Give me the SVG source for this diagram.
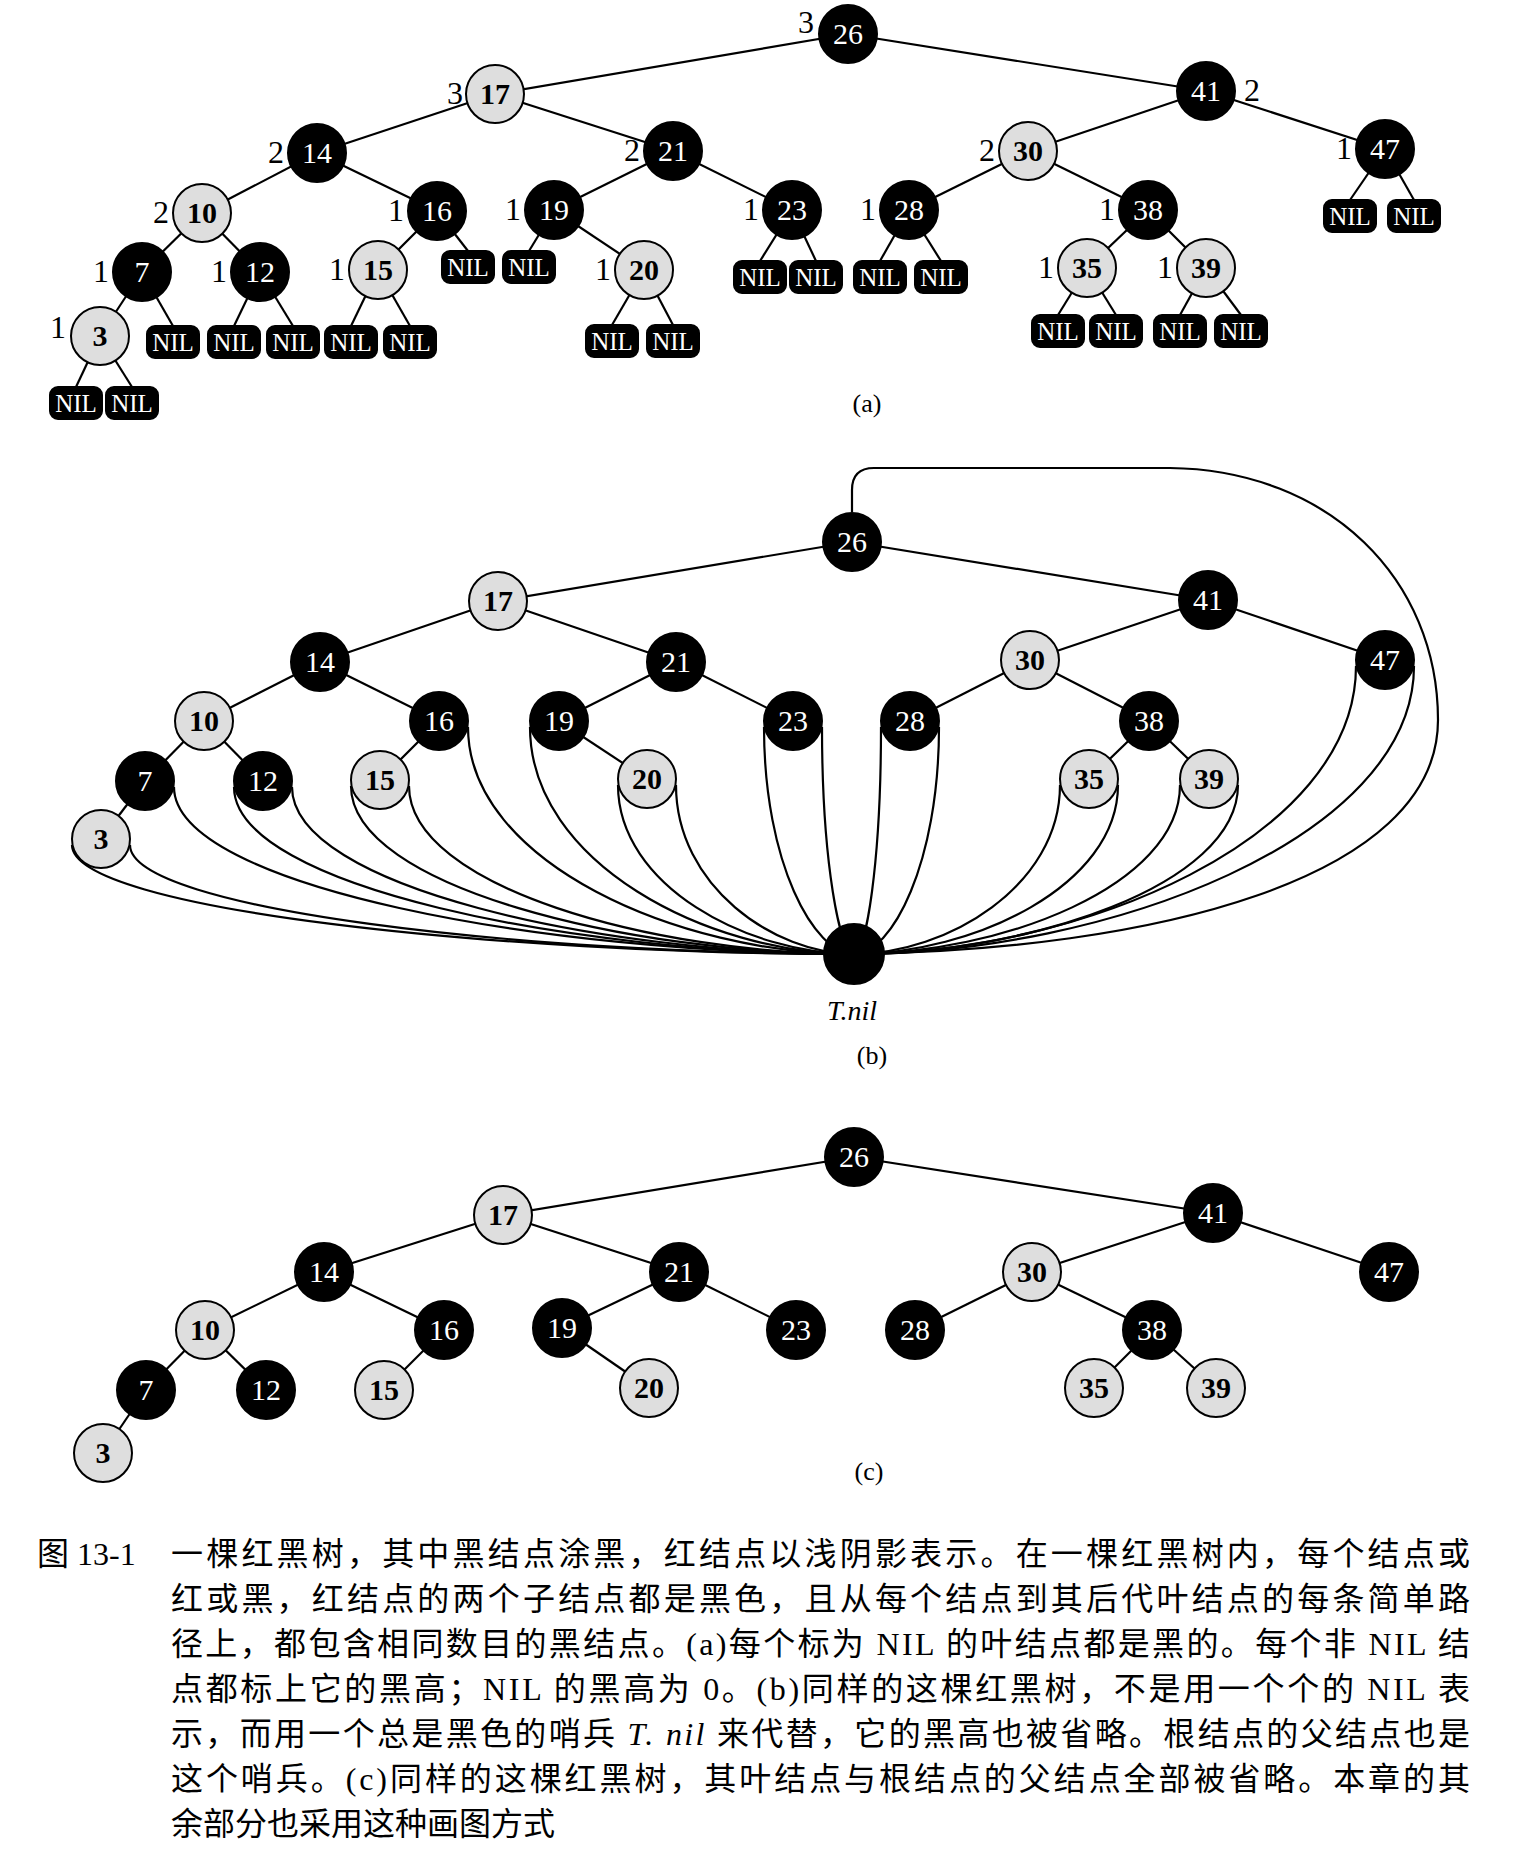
<svg xmlns="http://www.w3.org/2000/svg" width="1531" height="1850" viewBox="0 0 1531 1850">
<style>
.b{fill:#000;stroke:#000;stroke-width:2}
.r{fill:#dedede;stroke:#000;stroke-width:2}
.n{font-family:"Liberation Serif",serif;font-size:30px;text-anchor:middle}
.bt{fill:#fff}
.rt{fill:#000;font-weight:bold}
.nil rect{fill:#000;stroke:#000;stroke-width:2}
.nil text{font-family:"Liberation Serif",serif;font-size:25px;fill:#fff;text-anchor:middle}
.h{font-family:"Liberation Serif",serif;font-size:32px;text-anchor:middle;fill:#000}
.e line,.e path{stroke:#000;stroke-width:2.2;fill:none}
.cap{font-family:"Liberation Serif","Noto Sans CJK SC",serif;font-size:32px;fill:#000}
.lab{font-family:"Liberation Serif","Noto Sans CJK SC",serif;font-size:26px;text-anchor:middle}
</style>
<defs>
<g id="nb"><circle r="29" class="b"/></g>
<g id="nr"><circle r="29" class="r"/></g>
<g id="nl" class="nil"><rect x="-26" y="-16" width="52" height="32" rx="8"/><text y="9">NIL</text></g>
</defs>

<!-- (a) -->
<g id="a-edges" class="e">
<line x1="848" y1="34" x2="495" y2="94"/><line x1="848" y1="34" x2="1206" y2="91"/>
<line x1="495" y1="94" x2="317" y2="153"/><line x1="495" y1="94" x2="673" y2="151"/>
<line x1="317" y1="153" x2="202" y2="213"/><line x1="317" y1="153" x2="437" y2="211"/>
<line x1="202" y1="213" x2="142" y2="272"/><line x1="202" y1="213" x2="260" y2="272"/>
<line x1="142" y1="272" x2="100" y2="336"/><line x1="142" y1="272" x2="173" y2="326"/>
<line x1="100" y1="336" x2="76" y2="387"/><line x1="100" y1="336" x2="132" y2="387"/>
<line x1="260" y1="272" x2="234" y2="326"/><line x1="260" y1="272" x2="293" y2="326"/>
<line x1="437" y1="211" x2="378" y2="270"/><line x1="437" y1="211" x2="468" y2="251"/>
<line x1="378" y1="270" x2="351" y2="326"/><line x1="378" y1="270" x2="410" y2="326"/>
<line x1="673" y1="151" x2="554" y2="210"/><line x1="673" y1="151" x2="792" y2="210"/>
<line x1="554" y1="210" x2="529" y2="251"/><line x1="554" y1="210" x2="644" y2="270"/>
<line x1="644" y1="270" x2="612" y2="325"/><line x1="644" y1="270" x2="673" y2="325"/>
<line x1="792" y1="210" x2="760" y2="261"/><line x1="792" y1="210" x2="816" y2="261"/>
<line x1="1206" y1="91" x2="1028" y2="151"/><line x1="1206" y1="91" x2="1385" y2="149"/>
<line x1="1028" y1="151" x2="909" y2="210"/><line x1="1028" y1="151" x2="1148" y2="210"/>
<line x1="909" y1="210" x2="880" y2="261"/><line x1="909" y1="210" x2="941" y2="261"/>
<line x1="1148" y1="210" x2="1087" y2="268"/><line x1="1148" y1="210" x2="1206" y2="268"/>
<line x1="1087" y1="268" x2="1058" y2="315"/><line x1="1087" y1="268" x2="1116" y2="315"/>
<line x1="1206" y1="268" x2="1180" y2="315"/><line x1="1206" y1="268" x2="1241" y2="315"/>
<line x1="1385" y1="149" x2="1350" y2="200"/><line x1="1385" y1="149" x2="1414" y2="200"/>
</g>
<g id="a-nil">
<use href="#nl" x="76" y="403"/><use href="#nl" x="132" y="403"/>
<use href="#nl" x="173" y="342"/><use href="#nl" x="234" y="342"/><use href="#nl" x="293" y="342"/>
<use href="#nl" x="351" y="342"/><use href="#nl" x="410" y="342"/>
<use href="#nl" x="468" y="267"/><use href="#nl" x="529" y="267"/>
<use href="#nl" x="612" y="341"/><use href="#nl" x="673" y="341"/>
<use href="#nl" x="760" y="277"/><use href="#nl" x="816" y="277"/>
<use href="#nl" x="880" y="277"/><use href="#nl" x="941" y="277"/>
<use href="#nl" x="1058" y="331"/><use href="#nl" x="1116" y="331"/>
<use href="#nl" x="1180" y="331"/><use href="#nl" x="1241" y="331"/>
<use href="#nl" x="1350" y="216"/><use href="#nl" x="1414" y="216"/>
</g>
<g id="a26"><use href="#nb" x="848" y="34"/><text class="n bt" x="848" y="44">26</text><text class="h" x="806" y="33">3</text></g>
<g id="a17"><use href="#nr" x="495" y="94"/><text class="n rt" x="495" y="104">17</text><text class="h" x="455" y="104">3</text></g>
<g id="a41"><use href="#nb" x="1206" y="91"/><text class="n bt" x="1206" y="101">41</text><text class="h" x="1252" y="101">2</text></g>
<g id="a14"><use href="#nb" x="317" y="153"/><text class="n bt" x="317" y="163">14</text><text class="h" x="276" y="163">2</text></g>
<g id="a21"><use href="#nb" x="673" y="151"/><text class="n bt" x="673" y="161">21</text><text class="h" x="632" y="161">2</text></g>
<g id="a30"><use href="#nr" x="1028" y="151"/><text class="n rt" x="1028" y="161">30</text><text class="h" x="987" y="161">2</text></g>
<g id="a47"><use href="#nb" x="1385" y="149"/><text class="n bt" x="1385" y="159">47</text><text class="h" x="1344" y="159">1</text></g>
<g id="a10"><use href="#nr" x="202" y="213"/><text class="n rt" x="202" y="223">10</text><text class="h" x="161" y="223">2</text></g>
<g id="a16"><use href="#nb" x="437" y="211"/><text class="n bt" x="437" y="221">16</text><text class="h" x="396" y="221">1</text></g>
<g id="a19"><use href="#nb" x="554" y="210"/><text class="n bt" x="554" y="220">19</text><text class="h" x="513" y="220">1</text></g>
<g id="a23"><use href="#nb" x="792" y="210"/><text class="n bt" x="792" y="220">23</text><text class="h" x="751" y="220">1</text></g>
<g id="a28"><use href="#nb" x="909" y="210"/><text class="n bt" x="909" y="220">28</text><text class="h" x="868" y="220">1</text></g>
<g id="a38"><use href="#nb" x="1148" y="210"/><text class="n bt" x="1148" y="220">38</text><text class="h" x="1107" y="220">1</text></g>
<g id="a7"><use href="#nb" x="142" y="272"/><text class="n bt" x="142" y="282">7</text><text class="h" x="101" y="282">1</text></g>
<g id="a12"><use href="#nb" x="260" y="272"/><text class="n bt" x="260" y="282">12</text><text class="h" x="219" y="282">1</text></g>
<g id="a15"><use href="#nr" x="378" y="270"/><text class="n rt" x="378" y="280">15</text><text class="h" x="337" y="280">1</text></g>
<g id="a20"><use href="#nr" x="644" y="270"/><text class="n rt" x="644" y="280">20</text><text class="h" x="603" y="280">1</text></g>
<g id="a35"><use href="#nr" x="1087" y="268"/><text class="n rt" x="1087" y="278">35</text><text class="h" x="1046" y="278">1</text></g>
<g id="a39"><use href="#nr" x="1206" y="268"/><text class="n rt" x="1206" y="278">39</text><text class="h" x="1165" y="278">1</text></g>
<g id="a3"><use href="#nr" x="100" y="336"/><text class="n rt" x="100" y="346">3</text><text class="h" x="58" y="338">1</text></g>
<text class="lab" x="867" y="412">(a)</text>

<!-- (b) -->
<g id="b-edges" class="e">
<line x1="852" y1="542" x2="498" y2="601"/><line x1="852" y1="542" x2="1208" y2="600"/>
<line x1="498" y1="601" x2="320" y2="662"/><line x1="498" y1="601" x2="676" y2="662"/>
<line x1="320" y1="662" x2="204" y2="721"/><line x1="320" y1="662" x2="439" y2="721"/>
<line x1="204" y1="721" x2="145" y2="781"/><line x1="204" y1="721" x2="263" y2="781"/>
<line x1="145" y1="781" x2="101" y2="839"/>
<line x1="439" y1="721" x2="380" y2="780"/>
<line x1="676" y1="662" x2="559" y2="721"/><line x1="676" y1="662" x2="793" y2="721"/>
<line x1="559" y1="721" x2="647" y2="779"/>
<line x1="1208" y1="600" x2="1030" y2="660"/><line x1="1208" y1="600" x2="1385" y2="660"/>
<line x1="1030" y1="660" x2="910" y2="721"/><line x1="1030" y1="660" x2="1149" y2="721"/>
<line x1="1149" y1="721" x2="1089" y2="779"/><line x1="1149" y1="721" x2="1209" y2="779"/>
<path d="M72,845 C72,910 502,954 854,954"/>
<path d="M130,845 C130,910 528,954 854,954"/>
<path d="M174,787 C174,887 548,954 854,954"/>
<path d="M234,787 C234,887 575,954 854,954"/>
<path d="M292,787 C292,887 601,954 854,954"/>
<path d="M351,786 C351,887 628,954 854,954"/>
<path d="M409,786 C409,887 654,954 854,954"/>
<path d="M468,727 C468,863 680,954 854,954"/>
<path d="M530,727 C530,863 708,954 854,954"/>
<path d="M618,785 C618,886 748,954 854,954"/>
<path d="M676,785 C676,886 774,954 854,954"/>
<path d="M764,727 C764,863 814,954 854,954"/>
<path d="M822,727 C822,863 840,954 854,954"/>
<path d="M881,727 C881,863 866,954 854,954"/>
<path d="M939,727 C939,863 892,954 854,954"/>
<path d="M1060,785 C1060,886 947,954 854,954"/>
<path d="M1118,785 C1118,886 973,954 854,954"/>
<path d="M1180,785 C1180,886 1001,954 854,954"/>
<path d="M1238,785 C1238,886 1027,954 854,954"/>
<path d="M1356,666 C1356,839 1080,954 854,954"/>
<path d="M1414,666 C1414,839 1106,954 854,954"/>
<path d="M852,512 L852,490 Q852,468 874,468 L1170,468 C1330,470 1438,580 1438,720 C1438,880 1150,950 854,954"/>
</g>
<g id="b26"><use href="#nb" x="852" y="542"/><text class="n bt" x="852" y="552">26</text></g>
<g id="b17"><use href="#nr" x="498" y="601"/><text class="n rt" x="498" y="611">17</text></g>
<g id="b41"><use href="#nb" x="1208" y="600"/><text class="n bt" x="1208" y="610">41</text></g>
<g id="b14"><use href="#nb" x="320" y="662"/><text class="n bt" x="320" y="672">14</text></g>
<g id="b21"><use href="#nb" x="676" y="662"/><text class="n bt" x="676" y="672">21</text></g>
<g id="b30"><use href="#nr" x="1030" y="660"/><text class="n rt" x="1030" y="670">30</text></g>
<g id="b47"><use href="#nb" x="1385" y="660"/><text class="n bt" x="1385" y="670">47</text></g>
<g id="b10"><use href="#nr" x="204" y="721"/><text class="n rt" x="204" y="731">10</text></g>
<g id="b16"><use href="#nb" x="439" y="721"/><text class="n bt" x="439" y="731">16</text></g>
<g id="b19"><use href="#nb" x="559" y="721"/><text class="n bt" x="559" y="731">19</text></g>
<g id="b23"><use href="#nb" x="793" y="721"/><text class="n bt" x="793" y="731">23</text></g>
<g id="b28"><use href="#nb" x="910" y="721"/><text class="n bt" x="910" y="731">28</text></g>
<g id="b38"><use href="#nb" x="1149" y="721"/><text class="n bt" x="1149" y="731">38</text></g>
<g id="b7"><use href="#nb" x="145" y="781"/><text class="n bt" x="145" y="791">7</text></g>
<g id="b12"><use href="#nb" x="263" y="781"/><text class="n bt" x="263" y="791">12</text></g>
<g id="b15"><use href="#nr" x="380" y="780"/><text class="n rt" x="380" y="790">15</text></g>
<g id="b20"><use href="#nr" x="647" y="779"/><text class="n rt" x="647" y="789">20</text></g>
<g id="b35"><use href="#nr" x="1089" y="779"/><text class="n rt" x="1089" y="789">35</text></g>
<g id="b39"><use href="#nr" x="1209" y="779"/><text class="n rt" x="1209" y="789">39</text></g>
<g id="b3"><use href="#nr" x="101" y="839"/><text class="n rt" x="101" y="849">3</text></g>
<g id="bnil"><circle cx="854" cy="954" r="30" class="b"/><text x="852" y="1020" style="font-family:'Liberation Serif',serif;font-size:28px;font-style:italic;text-anchor:middle">T.nil</text></g>
<text class="lab" x="872" y="1064">(b)</text>

<!-- (c) -->
<g id="c-edges" class="e">
<line x1="854" y1="1157" x2="503" y2="1215"/><line x1="854" y1="1157" x2="1213" y2="1213"/>
<line x1="503" y1="1215" x2="324" y2="1272"/><line x1="503" y1="1215" x2="679" y2="1272"/>
<line x1="324" y1="1272" x2="205" y2="1330"/><line x1="324" y1="1272" x2="444" y2="1330"/>
<line x1="205" y1="1330" x2="146" y2="1390"/><line x1="205" y1="1330" x2="266" y2="1390"/>
<line x1="146" y1="1390" x2="103" y2="1453"/>
<line x1="444" y1="1330" x2="384" y2="1390"/>
<line x1="679" y1="1272" x2="562" y2="1328"/><line x1="679" y1="1272" x2="796" y2="1330"/>
<line x1="562" y1="1328" x2="649" y2="1388"/>
<line x1="1213" y1="1213" x2="1032" y2="1272"/><line x1="1213" y1="1213" x2="1389" y2="1272"/>
<line x1="1032" y1="1272" x2="915" y2="1330"/><line x1="1032" y1="1272" x2="1152" y2="1330"/>
<line x1="1152" y1="1330" x2="1094" y2="1388"/><line x1="1152" y1="1330" x2="1216" y2="1388"/>
</g>
<g id="c26"><use href="#nb" x="854" y="1157"/><text class="n bt" x="854" y="1167">26</text></g>
<g id="c17"><use href="#nr" x="503" y="1215"/><text class="n rt" x="503" y="1225">17</text></g>
<g id="c41"><use href="#nb" x="1213" y="1213"/><text class="n bt" x="1213" y="1223">41</text></g>
<g id="c14"><use href="#nb" x="324" y="1272"/><text class="n bt" x="324" y="1282">14</text></g>
<g id="c21"><use href="#nb" x="679" y="1272"/><text class="n bt" x="679" y="1282">21</text></g>
<g id="c30"><use href="#nr" x="1032" y="1272"/><text class="n rt" x="1032" y="1282">30</text></g>
<g id="c47"><use href="#nb" x="1389" y="1272"/><text class="n bt" x="1389" y="1282">47</text></g>
<g id="c10"><use href="#nr" x="205" y="1330"/><text class="n rt" x="205" y="1340">10</text></g>
<g id="c16"><use href="#nb" x="444" y="1330"/><text class="n bt" x="444" y="1340">16</text></g>
<g id="c19"><use href="#nb" x="562" y="1328"/><text class="n bt" x="562" y="1338">19</text></g>
<g id="c23"><use href="#nb" x="796" y="1330"/><text class="n bt" x="796" y="1340">23</text></g>
<g id="c28"><use href="#nb" x="915" y="1330"/><text class="n bt" x="915" y="1340">28</text></g>
<g id="c38"><use href="#nb" x="1152" y="1330"/><text class="n bt" x="1152" y="1340">38</text></g>
<g id="c7"><use href="#nb" x="146" y="1390"/><text class="n bt" x="146" y="1400">7</text></g>
<g id="c12"><use href="#nb" x="266" y="1390"/><text class="n bt" x="266" y="1400">12</text></g>
<g id="c15"><use href="#nr" x="384" y="1390"/><text class="n rt" x="384" y="1400">15</text></g>
<g id="c20"><use href="#nr" x="649" y="1388"/><text class="n rt" x="649" y="1398">20</text></g>
<g id="c35"><use href="#nr" x="1094" y="1388"/><text class="n rt" x="1094" y="1398">35</text></g>
<g id="c39"><use href="#nr" x="1216" y="1388"/><text class="n rt" x="1216" y="1398">39</text></g>
<g id="c3"><use href="#nr" x="103" y="1453"/><text class="n rt" x="103" y="1463">3</text></g>
<text class="lab" x="869" y="1480">(c)</text>

<!-- caption -->
<g id="caption" class="cap">
<text x="37" y="1565">图 13-1</text>
<text x="171" y="1565" textLength="1299" lengthAdjust="spacing">一棵红黑树，其中黑结点涂黑，红结点以浅阴影表示。在一棵红黑树内，每个结点或</text>
<text x="171" y="1610" textLength="1299" lengthAdjust="spacing">红或黑，红结点的两个子结点都是黑色，且从每个结点到其后代叶结点的每条简单路</text>
<text x="171" y="1655" textLength="1299" lengthAdjust="spacing">径上，都包含相同数目的黑结点。(a)每个标为 NIL 的叶结点都是黑的。每个非 NIL 结</text>
<text x="171" y="1700" textLength="1299" lengthAdjust="spacing">点都标上它的黑高；NIL 的黑高为 0。(b)同样的这棵红黑树，不是用一个个的 NIL 表</text>
<text x="171" y="1745" textLength="1299" lengthAdjust="spacing">示，而用一个总是黑色的哨兵 <tspan font-style="italic">T. nil</tspan> 来代替，它的黑高也被省略。根结点的父结点也是</text>
<text x="171" y="1790" textLength="1299" lengthAdjust="spacing">这个哨兵。(c)同样的这棵红黑树，其叶结点与根结点的父结点全部被省略。本章的其</text>
<text x="171" y="1835">余部分也采用这种画图方式</text>
</g>
</svg>
